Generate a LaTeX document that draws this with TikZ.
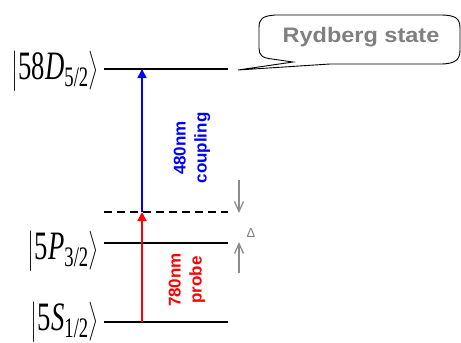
\documentclass[tikz,border=0pt]{standalone}
\usepackage{amsmath}
\usepackage{fontspec}
\setmainfont{Liberation Serif}
\setsansfont{Liberation Sans}
\usetikzlibrary{arrows.meta, positioning}
\definecolor{mBlue}{HTML}{0000FF}
\definecolor{mRed}{HTML}{FF0000}
\definecolor{mGray}{HTML}{8C8C8C}
\definecolor{mText}{HTML}{808080}

\begin{document}
\begin{tikzpicture}[x=1pt, y=-1pt,
    level/.style={line width=1.8pt, black},
    pump/.style={line width=1.6pt, -{Triangle[width=9pt,length=9pt]}},
    detune/.style={mGray, line width=1.3pt, -{Straight Barb[width=9pt,length=10pt]}},
    ket/.style={anchor=east, inner sep=0pt, transform shape, xscale=0.86, yscale=1.3,
      font=\fontsize{31}{36}\selectfont},
    beam/.style={rotate=90, align=center, inner sep=0pt,
      font=\sffamily\bfseries\fontsize{17}{21}\selectfont}]
    \useasboundingbox (0,0) rectangle (461,343);
    % energy levels
    \foreach \n/\y in {d/69, p/243, s/322} {
      \coordinate (\n-l) at (104,\y);
      \coordinate (\n-r) at (228,\y);
      \draw[level] (\n-l) -- (\n-r);
    }
    \coordinate (v-l) at (104,212);
    \coordinate (v-r) at (228,212);
    \draw[level, dash pattern=on 8pt off 5pt] (v-l) -- (v-r);
    \node[ket] (dket) at (99,71) {$\left|\text{58}\textit{D}_{\text{5/2}}\right\rangle$};
    \node[ket] (pket) at (99,251) {$\left|\text{5}\textit{P}_{\text{3/2}}\right\rangle$};
    \node[ket] (sket) at (99,322) {$\left|\text{5}\textit{S}_{\text{1/2}}\right\rangle$};
    % lasers
    \coordinate (s-a) at (142,322);
    \coordinate (v-a) at (142,212);
    \coordinate (d-a) at (142,69);
    \draw[pump, mRed] (s-a) -- (v-a);
    \draw[pump, mBlue] (v-a) -- (d-a);
    \node[beam, mBlue] (coupling) at (192,148) {480nm\\coupling};
    \node[beam, mRed] (probe) at (187,280) {780nm\\probe};
    % detuning
    \coordinate (dn-a) at (239,180);
    \coordinate (dn-b) at (239,213);
    \coordinate (up-a) at (239,273);
    \coordinate (up-b) at (239,242);
    \draw[detune] (dn-a) -- (dn-b);
    \draw[detune] (up-a) -- (up-b);
    \node[mText, font=\sffamily\fontsize{13}{15}\selectfont, inner sep=0pt] (delta) at (251,233) {Δ};
    % callout
    \coordinate (tip) at (238,70);
    \draw[line width=0.9pt] (tip) -- (293,62) -- (272,59)
      .. controls (262,58) and (259,55) .. (259,48) -- (259,28)
      .. controls (259,19) and (262,16) .. (275,15) -- (440,15)
      .. controls (455,15) and (460,18) .. (460,28) -- (460,50)
      .. controls (460,60) and (455,64) .. (440,64) -- (330,64) -- cycle;
    \node[mText, font=\sffamily\bfseries\fontsize{21}{24}\selectfont, transform shape, xscale=1.12, inner sep=0pt] (rydberg) at (361,37) {Rydberg state};
  \end{tikzpicture}
\end{document}
